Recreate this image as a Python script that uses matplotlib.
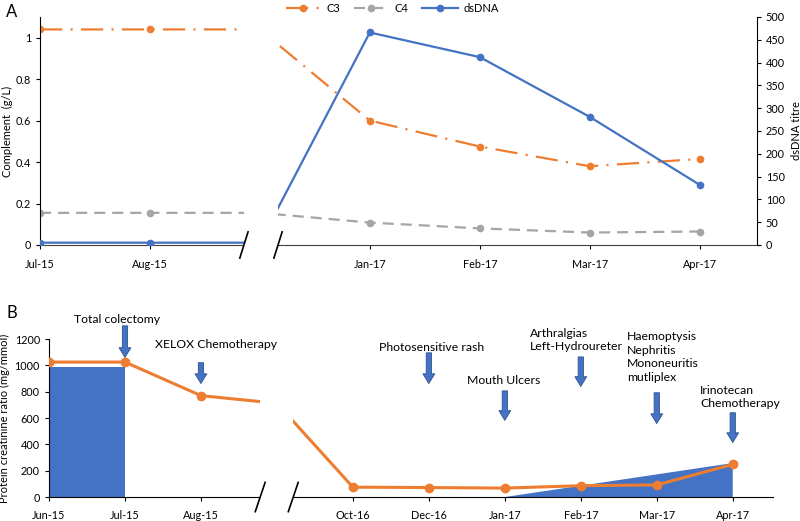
import matplotlib
matplotlib.use("Agg")
import matplotlib.pyplot as plt
import matplotlib.transforms as mtransforms
from matplotlib.patches import Rectangle
import numpy as np

plt.rcParams["font.family"] = ["Lato", "DejaVu Sans"]
plt.rcParams["lines.scale_dashes"] = False

ORANGE = "#ED7D31"
GREY = "#A5A5A5"
BLUE = "#4472C4"

# Panel A data ("" = hidden point at the axis break)
meses_a = ["Jul-15", "Aug-15", "", "Jan-17", "Feb-17", "Mar-17", "Apr-17"]
c3 = [1.04, 1.04, 1.04, 0.60, 0.475, 0.38, 0.415]
c4 = [0.155, 0.155, 0.155, 0.108, 0.08, 0.06, 0.065]
dsdna = [5, 5, 5, 466, 412, 281, 132]

# Panel B data
meses_b = ["Jun-15", "Jul-15", "Aug-15", "", "Oct-16", "Dec-16",
           "Jan-17", "Feb-17", "Mar-17", "Apr-17"]
pcr = [1025, 1025, 770, 712, 75, 72, 68, 86, 92, 248]
area_b = [985, 985, np.nan, np.nan, np.nan, np.nan, 0, 86, 172, 258]

eventos = [
    ("Total colectomy", "Jul-15"),
    ("XELOX Chemotherapy", "Aug-15"),
    ("Photosensitive rash", "Dec-16"),
    ("Mouth Ulcers", "Jan-17"),
    ("Arthralgias\nLeft-Hydroureter", "Feb-17"),
    ("Haemoptysis\nNephritis\nMononeuritis\nmutliplex", "Mar-17"),
    ("Irinotecan\nChemotherapy", "Apr-17"),
]

# layout of the annotations: (text x offset, text y, text alignment, arrow top, arrow tip)
layout_eventos = [
    (-0.11, 1345, "center", 1300, 1060),
    (-0.61, 1155, "left", 1020, 862),
    (-0.66, 1133, "left", 1095, 862),
    (-0.50, 882, "left", 806, 582),
    (-0.67, 1192, "left", 1064, 840),
    (-0.39, 1063, "left", 792, 558),
    (-0.43, 760, "left", 640, 414),
]


def quebra(ax, x0, x1, dx, dy):
    """Covers the gap of the broken axis and draws the two slashes."""
    trans = mtransforms.blended_transform_factory(ax.transData, ax.transAxes)
    ax.add_patch(Rectangle((x0, -0.04), x1 - x0, 1.08, transform=trans,
                           facecolor="white", edgecolor="none",
                           clip_on=False, zorder=10))
    for xc in (x0, x1):
        ax.plot([xc - dx / 2, xc + dx / 2], [-dy / 2, dy / 2],
                transform=trans, color="black", linewidth=1.2,
                clip_on=False, zorder=11)


fig = plt.figure(figsize=(8, 5.21), dpi=100)

# ---------------- Panel A ----------------
ax_a = fig.add_axes([0.05, 0.5298, 0.896, 0.4376])
xa = np.arange(len(meses_a))
vis_a = [i for i, m in enumerate(meses_a) if m]

ax_a.plot(xa, c3, color=ORANGE, linewidth=1.6,
          linestyle=(0, (16, 6, 1.5, 6)),
          marker="o", markersize=4.5, markevery=vis_a, label="C3")
ax_a.plot(xa, c4, color=GREY, linewidth=1.6, linestyle=(0, (8, 5)),
          marker="o", markersize=4.5, markevery=vis_a, label="C4")
ax_a.set_ylim(0, 1.1)
ax_a.set_xlim(0, 6.52)
ax_a.set_yticks([0, 0.2, 0.4, 0.6, 0.8, 1.0])
ax_a.set_yticklabels(["0", "0.2", "0.4", "0.6", "0.8", "1"])
ax_a.set_xticks(vis_a)
ax_a.set_xticklabels([meses_a[i] for i in vis_a])
ax_a.set_ylabel("Complement  (g/L)", fontsize=8, labelpad=2)
ax_a.spines["top"].set_visible(False)
ax_a.spines["right"].set_visible(False)
ax_a.spines["bottom"].set_color("#404040")
ax_a.tick_params(labelsize=7.8, length=3, width=0.8)
ax_a.tick_params(axis="x", pad=7)

ax_a2 = ax_a.twinx()
ax_a2.plot(xa, dsdna, color=BLUE, linewidth=1.6,
           marker="o", markersize=4.5, markevery=vis_a, label="dsDNA")
ax_a2.set_ylim(0, 500)
ax_a2.set_yticks(range(0, 501, 50))
ax_a2.set_ylabel("dsDNA titre", fontsize=8, labelpad=4)
for lado in ("top", "left", "bottom"):
    ax_a2.spines[lado].set_visible(False)
ax_a2.tick_params(labelsize=7.8, length=3, width=0.8)

quebra(ax_a2, 1.855, 2.165, 0.075, 0.115)

handles = ax_a.get_lines() + ax_a2.get_lines()
fig.legend(handles=handles, labels=["C3", "C4", "dsDNA"], loc="upper center",
           bbox_to_anchor=(0.49, 1.014), ncol=3, frameon=False, fontsize=8,
           handlelength=3.2, columnspacing=1.2, handletextpad=0.5)

fig.text(0.008, 0.977, "A", fontsize=12, va="center")

# ---------------- Panel B ----------------
ax_b = fig.add_axes([0.06125, 0.046, 0.905, 0.3033])
xb = np.arange(len(meses_b))
vis_b = [i for i, m in enumerate(meses_b) if m]

ax_b.fill_between(xb, 0, area_b, color=BLUE, linewidth=0, zorder=1)
ax_b.plot(xb, pcr, color=ORANGE, linewidth=2.2,
          marker="o", markersize=6, markevery=vis_b, zorder=3)
ax_b.set_ylim(0, 1200)
ax_b.set_xlim(0, 9.53)
ax_b.set_yticks(range(0, 1201, 200))
ax_b.set_xticks(vis_b)
ax_b.set_xticklabels([meses_b[i] for i in vis_b])
ax_b.set_ylabel("Protein creatinine ratio (mg/mmol)", fontsize=8, labelpad=3)
ax_b.spines["top"].set_visible(False)
ax_b.spines["right"].set_visible(False)
ax_b.tick_params(labelsize=7.8, length=3, width=0.8)
ax_b.tick_params(axis="x", pad=6)

for (texto, mes), (dx, ty, ha, topo, ponta) in zip(eventos, layout_eventos):
    xe = meses_b.index(mes)
    ax_b.annotate(
        "", xy=(xe, ponta), xytext=(xe, topo), annotation_clip=False,
        arrowprops=dict(arrowstyle="simple,head_length=0.7,head_width=0.85,tail_width=0.38",
                        facecolor=BLUE, edgecolor="#2F528F", linewidth=0.6,
                        shrinkA=0, shrinkB=0),
        zorder=12,
    )
    ax_b.text(xe + dx, ty, texto, ha=ha, va="center", fontsize=8.8,
              linespacing=1.3, clip_on=False, zorder=12)

quebra(ax_b, 2.78, 3.215, 0.13, 0.185)

fig.text(0.008, 0.40, "B", fontsize=12, va="center")

fig.savefig("out.png", dpi=100)
